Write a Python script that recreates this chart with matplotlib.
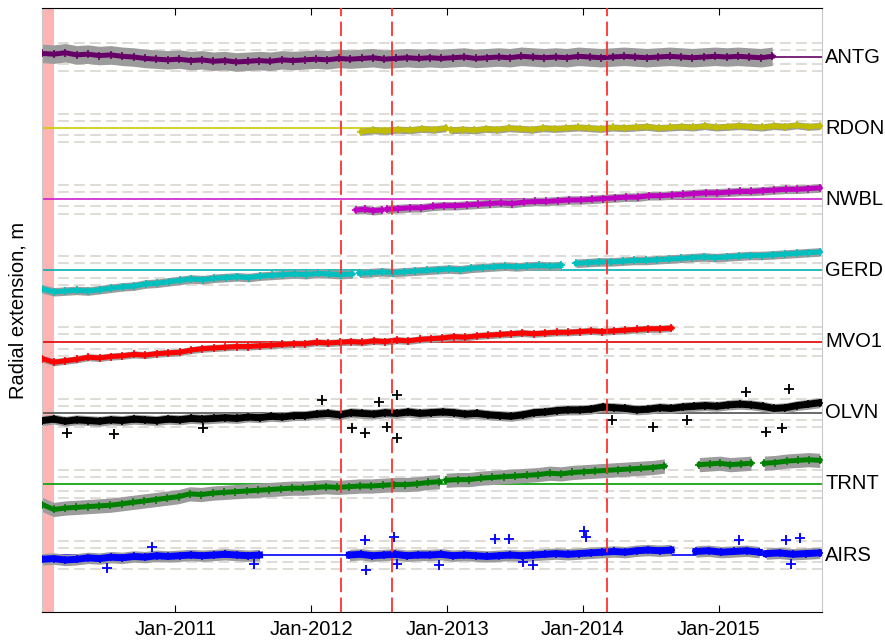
import numpy as np
import pandas as pd
import matplotlib
matplotlib.use("Agg")
import matplotlib.pyplot as plt
import matplotlib.dates as mdates
import matplotlib.transforms as mtransforms

plt.rcParams['font.family'] = ['Liberation Sans', 'DejaVu Sans']

# ---------------- data (radial extension relative to reference, mm) ----------------
stations = ['ANTG', 'RDON', 'NWBL', 'GERD', 'MVO1', 'OLVN', 'TRNT', 'AIRS']
colors = ['#660066', '#c0bc00', '#c000c0', '#00bfbf', '#ff0000', '#000000', '#008000', '#0000ff']
ref_colors = ['#660066', '#cccc00', '#d020d0', '#00b0b0', '#e00000', '#505050', '#00a000', '#0000ff']
errors_mm = [13, 5, 6, 6, 5, 7, 10, 8]
line_widths = [3.6, 3.6, 3.6, 3.6, 3.6, 5.0, 3.6, 5.0]

antg_segments = [
    ('2010-01-08', '2015-05-25',
     [5, 4, 6, 3, 4, 2, 3, 1, 0, -2, -3, -4,
      -3, -5, -4, -6, -5, -7, -6, -5, -6, -4, -5, -4,
      -3, -4, -2, -3, -2, -1, -3, -2, -1, -2, -1, -2,
      -1, 0, -2, -1, 0, -1, 1, 0, -1, 0, -1, 1,
      0, -1, 0, 1, 0, -1, 0, 1, 0, -1, 0, 1,
      0, 1, 0, -1, 1]),
]
rdon_segments = [
    ('2012-05-15', '2012-12-28', [-5, -3, -4, -2, -3, -1, -2, 0]),
    ('2013-01-12', '2015-09-30',
     [-3, -2, -3, -1, -2, 0, -1, -2, 0, -1, 0, 1, 0, -1, 1, 0, 1,
      2, 0, 1, 2, 1, 3, 1, 2, 3, 2, 1, 3, 2, 4, 2, 3]),
]
nwbl_segments = [
    ('2012-05-01', '2012-07-09', [-15, -14, -16, -15]),
    ('2012-07-23', '2015-09-30',
     [-14, -13, -12, -12, -10, -9, -9, -8, -7, -6,
      -5, -6, -4, -3, -3, -2, -1, -1, 0, 1,
      2, 3, 3, 5, 5, 6, 7, 8, 9, 9,
      10, 11, 11, 12, 13, 14, 14, 15, 16]),
]
gerd_segments = [
    ('2010-01-08', '2012-04-20',
     [-26, -30, -29, -28, -29, -27, -25, -23, -22, -19,
      -18, -16, -14, -12, -13, -11, -10, -9, -10, -8,
      -7, -6, -5, -6, -4, -5, -6, -5]),
    ('2012-05-10', '2013-11-03',
     [-4, -3, -2, -3, -2, -1, 0, 1, 2, 1, 3, 4, 5, 6, 5, 6, 7, 6, 7]),
    ('2013-12-14', '2015-09-30',
     [10, 11, 12, 12, 13, 14, 14, 15, 16, 17, 18, 19, 18, 19, 20, 21, 21, 22, 23, 24, 25, 26]),
]
mvo1_segments = [
    ('2010-01-08', '2014-08-26',
     [-24, -29, -27, -25, -22, -23, -21, -20, -18, -19, -17, -16,
      -15, -12, -10, -9, -8, -7, -7, -6, -5, -4, -3, -3,
      -1, -2, -1, 0, -1, 1, 0, 2, 1, 3, 4, 5,
      7, 6, 8, 9, 10, 11, 12, 11, 12, 13, 13, 14,
      15, 14, 15, 16, 17, 18, 18, 19]),
]
olvn_segments = [
    ('2010-01-08', '2015-09-30',
     [-11, -9, -12, -10, -11, -12, -10, -11, -9, -10, -11, -9,
      -10, -8, -9, -8, -7, -8, -6, -7, -5, -6, -4, -4,
      -2, -1, -3, 0, -1, -2, 0, -1, 1, -1, 0, 1,
      0, -2, -1, -3, -4, -5, -3, 0, 1, 3, 4, 4,
      5, 8, 7, 6, 4, 5, 7, 6, 8, 9, 10, 9,
      11, 12, 11, 9, 6, 7, 10, 12, 14]),
]
trnt_segments = [
    ('2010-01-08', '2012-12-11',
     [-29, -36, -34, -33, -32, -31, -30, -28, -26, -24, -22, -20,
      -18, -14, -15, -13, -12, -11, -10, -9, -8, -7, -6, -6,
      -5, -4, -5, -4, -3, -3, -2, -1, -1, 0, 2, 3]),
    ('2012-12-29', '2014-08-08',
     [5, 6, 6, 8, 9, 10, 11, 12, 13, 15, 14, 16, 17, 18, 19, 20, 21, 22, 23, 25]),
    ('2014-11-10', '2015-03-29', [27, 28, 29, 27, 28, 29]),
    ('2015-05-04', '2015-09-30', [29, 30, 32, 33, 34, 33]),
]
airs_segments = [
    ('2010-01-08', '2011-08-15',
     [-6, -5, -7, -6, -4, -5, -3, -4, -2, -3, -1, -2, -1, 0, -1, 0, 1, 0, -1, 0]),
    ('2012-04-13', '2014-08-26',
     [0, 1, -1, 0, 1, -1, 0, 0, 1, -1, 0, -1, -2, -1, 0, -1, 0, 1, 2, 1,
      2, 3, 4, 5, 4, 6, 7, 6, 7]),
    ('2014-11-01', '2015-04-20', [5, 6, 4, 5, 6, 4]),
    ('2015-05-09', '2015-09-30', [2, 3, 1, 2, 3]),
]
segments = [antg_segments, rdon_segments, nwbl_segments, gerd_segments,
            mvo1_segments, olvn_segments, trnt_segments, airs_segments]

# isolated outlying daily solutions (date, mm)
olvn_out_dates = ['2010-03-15', '2010-07-20', '2011-03-15', '2012-01-30', '2012-04-20',
                  '2012-05-25', '2012-07-01', '2012-07-22', '2012-08-18', '2012-08-18',
                  '2014-03-20', '2014-07-08', '2014-10-08', '2015-03-15', '2015-05-08',
                  '2015-06-20', '2015-07-10']
olvn_out_vals = [-28, -30, -22, 18, -22, -29, 15, -20, 25, -35,
                 -10, -20, -10, 29, -27, -22, 34]
airs_out_dates = ['2010-07-01', '2010-10-30', '2011-08-01', '2012-05-25', '2012-05-28',
                  '2012-08-10', '2012-08-20', '2012-12-10', '2013-05-10', '2013-06-15',
                  '2013-07-25', '2013-08-20', '2014-01-05', '2014-01-10', '2015-02-25',
                  '2015-07-01', '2015-08-08', '2015-07-15']
airs_out_vals = [-18, 11, -13, 21, -21, 25, -13, -14, 22, 22,
                 -10, -14, 34, 25, 21, 21, 24, -13]

xmin, xmax = '2010-01-07', '2015-10-06'
pink_end = '2010-02-08'
event_dates = ['2012-03-22', '2012-08-05', '2014-03-07']
tick_years = [2011, 2012, 2013, 2014, 2015]

# ---------------- figure ----------------
fig = plt.figure(figsize=(8.85, 6.4), dpi=100)
ax = fig.add_axes([42 / 885, 1 - 612 / 640, 780 / 885, 604 / 640])

spacing = 0.1
ax.axvspan(pd.Timestamp(xmin) - pd.Timedelta(days=5), pd.Timestamp(pink_end),
           color='#ffb4b4', lw=0, zorder=1)

label_tr = mtransforms.blended_transform_factory(ax.transAxes, ax.transData)
for k, name in enumerate(stations):
    off = (len(stations) - 1 - k) * spacing
    c = colors[k]
    err = errors_mm[k] / 1000.0
    for d in (-0.02, -0.01, 0.01, 0.02):
        ax.axhline(off + d, color='#d6d2cc', lw=1.1, ls=(0, (7, 3.5)), zorder=0.5)
    ax.axhline(off, color=ref_colors[k], lw=1.2, zorder=1.5)
    for s, e, vals in segments[k]:
        t = pd.date_range(s, e, periods=len(vals))
        v = off + np.array(vals) / 1000.0
        ax.fill_between(t, v - err, v + err, color='#9c9c9c', lw=0, zorder=2)
        ax.plot(t, v, color=c, lw=line_widths[k], marker='+', ms=6, mew=1.2, zorder=3)
    ax.text(1.004, off, name, transform=label_tr, ha='left', va='center', fontsize=14.5)

for dates, vals, k in ((olvn_out_dates, olvn_out_vals, 5), (airs_out_dates, airs_out_vals, 7)):
    off = (len(stations) - 1 - k) * spacing
    ax.errorbar(pd.to_datetime(dates), off + np.array(vals) / 1000.0, yerr=0.006,
                fmt='+', color=colors[k], ecolor='#9c9c9c', elinewidth=1.2,
                ms=7, mew=1.3, zorder=3)

for d in event_dates:
    ax.axvline(pd.Timestamp(d), color='#ff3030', lw=1.3, ls=(0, (8, 3)), zorder=4)

ax.set_xlim(pd.Timestamp(xmin), pd.Timestamp(xmax))
ax.set_ylim(-0.0801, 0.7689)
ax.set_xticks([pd.Timestamp(f'{y}-01-01') for y in tick_years])
ax.xaxis.set_major_formatter(mdates.DateFormatter('%b-%Y'))
ax.set_yticks([])
ax.tick_params(axis='x', direction='in', length=5, top=True, labelsize=14.5, pad=6)
for sp in ('left', 'right'):
    ax.spines[sp].set_color('#c8c8c8')
for sp in ('top', 'bottom'):
    ax.spines[sp].set_color('black')
ax.set_ylabel('Radial extension, m', fontsize=14.5)
ax.yaxis.set_label_coords(-0.018, 0.5)

fig.savefig('out.png', dpi=100)
